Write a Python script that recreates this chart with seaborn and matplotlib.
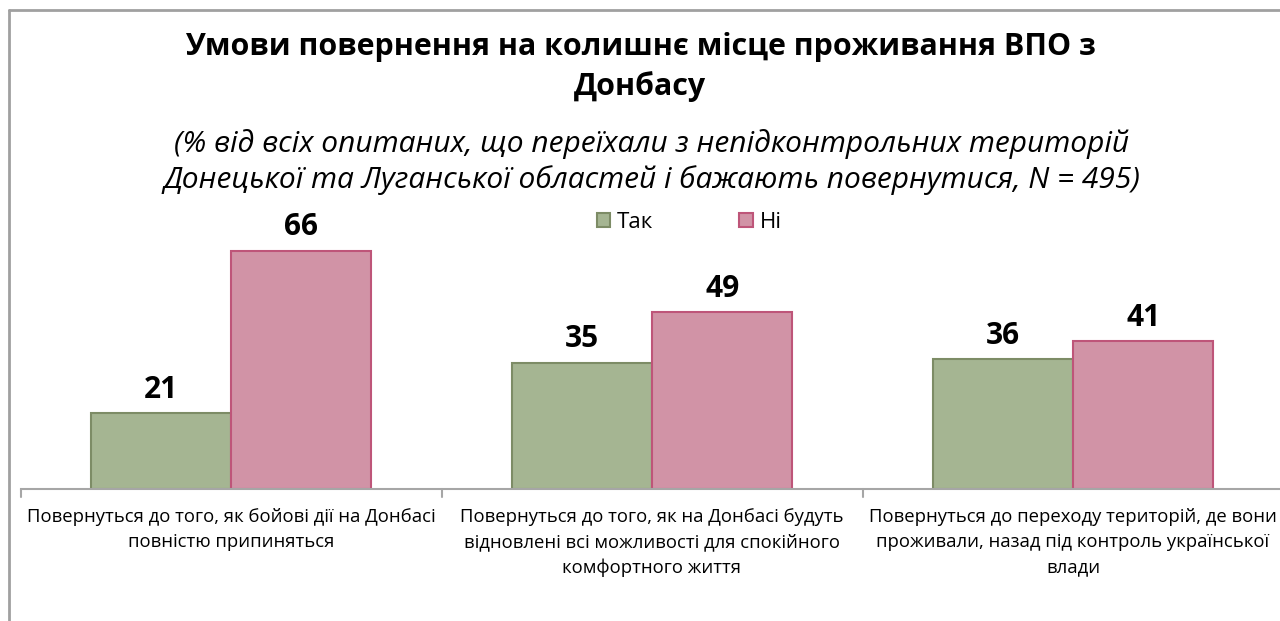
import matplotlib
matplotlib.use("Agg")
import matplotlib.pyplot as plt
from matplotlib.lines import Line2D
import seaborn as sns
import pandas as pd

categories = [
    "Повернуться до того, як бойові дії на Донбасі\nповністю припиняться",
    "Повернуться до того, як на Донбасі будуть\nвідновлені всі можливості для спокійного\nкомфортного життя",
    "Повернуться до переходу територій, де вони\nпроживали, назад під контроль української\nвлади",
]
series = ["Так", "Ні"]
tak = [21, 35, 36]
ni = [66, 49, 41]

title = "Умови повернення на колишнє місце проживання ВПО з\nДонбасу"
subtitle = ("(% від всіх опитаних, що переїхали з непідконтрольних територій\n"
            "Донецької та Луганської областей і бажають повернутися, N = 495)")

face = {"Так": "#A5B592", "Ні": "#D193A6"}
edge = {"Так": "#7D8C66", "Ні": "#BE5579"}

sns.set_theme(style="white")
plt.rcParams["font.family"] = ["Open Sans", "DejaVu Sans"]
plt.rcParams["text.color"] = "black"

df = pd.DataFrame({
    "cat": categories * 2,
    "series": [series[0]] * 3 + [series[1]] * 3,
    "value": tak + ni,
})

W, H = 1280, 621
fig = plt.figure(figsize=(W / 100, H / 100), dpi=100)
ax = fig.add_axes([20.5 / W, (H - 489) / H, 1263 / W, 252.7 / H])

sns.barplot(data=df, x="cat", y="value", hue="series", order=categories,
            hue_order=series, palette=face, width=0.667, saturation=1,
            ax=ax, legend=False)

for cont, s in zip(ax.containers, series):
    for p in cont:
        p.set_edgecolor(edge[s])
        p.set_linewidth(1.5)
    ax.bar_label(cont, fmt="%d", padding=6, fontsize=21.5, fontweight="bold",
                 color="black")

ax.set_xlim(-0.5, 2.5)
ax.set_ylim(0, 70)
ax.set_xlabel(None)
ax.set_ylabel(None)
ax.set_yticks([])
ax.set_xticks([])
for side in ["top", "right", "left"]:
    ax.spines[side].set_visible(False)
ax.spines["bottom"].set_color("#A6A6A6")
ax.spines["bottom"].set_linewidth(1.5)

# group boundary ticks
for xb in [-0.5, 0.5, 1.5, 2.5]:
    ax.plot([xb, xb], [0, -2.3], color="#A6A6A6", lw=1.5, clip_on=False)

for i, c in enumerate(categories):
    ax.text(i, -5.3, c, ha="center", va="top", fontsize=13.3,
            linespacing=1.5, color="black")

# legend
handles = [plt.Rectangle((0, 0), 1, 1, facecolor=face[s], edgecolor=edge[s], lw=1.5)
           for s in series]
fig.legend(handles, series, loc="center", bbox_to_anchor=(689 / W, 1 - 222 / H),
           ncol=2, frameon=False, fontsize=16, handlelength=0.6, handleheight=0.6,
           handletextpad=0.3, columnspacing=3.9)

fig.text(640 / W, 1 - 67 / H, title, ha="center", va="center", fontsize=21.9,
         fontweight="bold", linespacing=1.4)
fig.text(652 / W, 1 - 162 / H, subtitle, ha="center", va="center", fontsize=21.5,
         style="italic", linespacing=1.27)

# chart frame
fig.add_artist(Line2D([8.5 / W, 8.5 / W], [0, 1 - 10 / H], color="#A0A0A0", lw=2))
fig.add_artist(Line2D([8.5 / W, 1], [1 - 10 / H, 1 - 10 / H], color="#A0A0A0", lw=2))

fig.savefig("out.png", dpi=100)
